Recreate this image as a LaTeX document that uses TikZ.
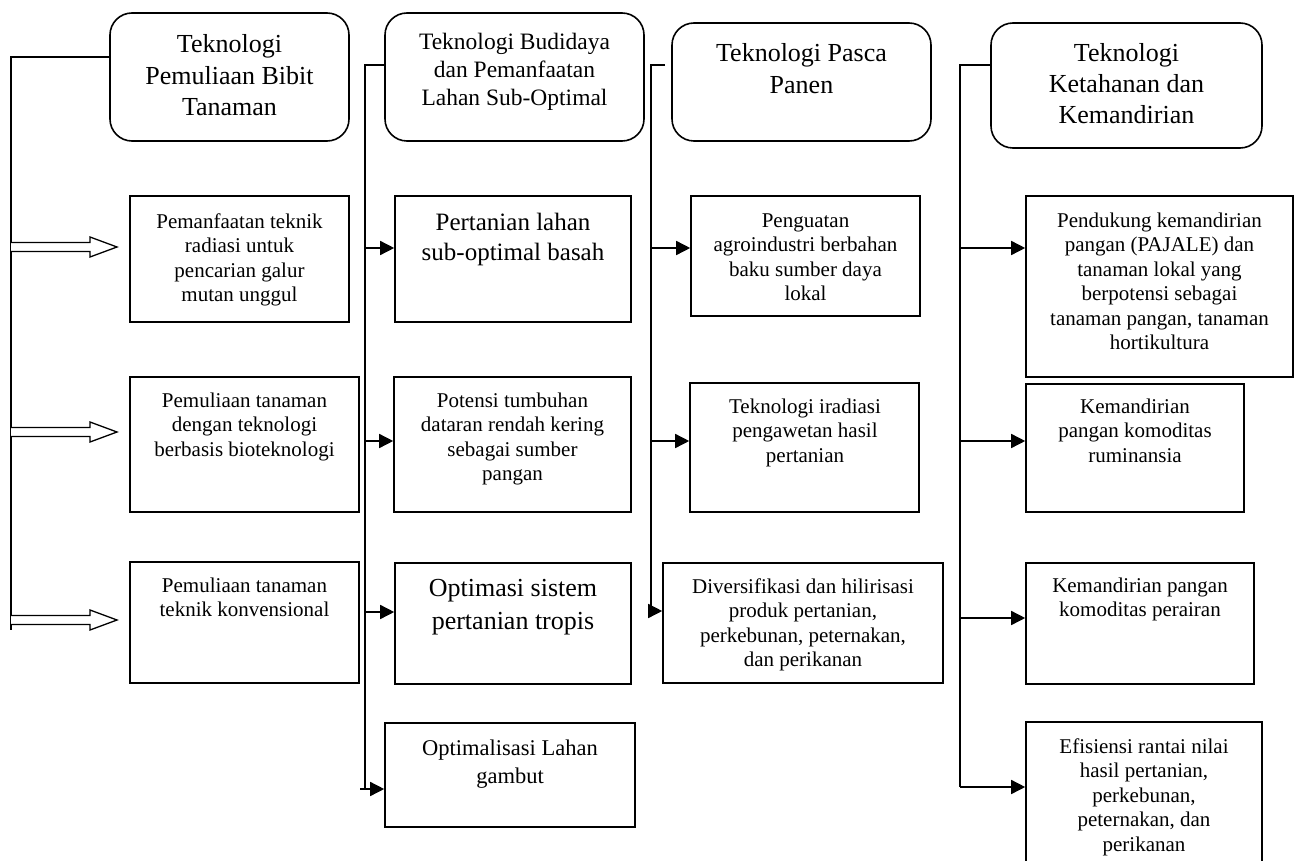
\documentclass[tikz,border=0pt]{standalone}
\usepackage{fontspec}
\setmainfont{Liberation Serif}
\usetikzlibrary{arrows.meta}
\tikzset{
  title/.style={draw, line width=1.6pt, rounded corners=22pt, inner sep=0pt},
  box/.style={draw, line width=1.6pt, inner sep=0pt},
  txt/.style={anchor=base, align=center, inner sep=0pt},
  fs/.style={font=\fontsize{21}{24.5}\selectfont},
  conn/.style={line width=1.5pt},
  arr/.style={line width=1.5pt, -{Triangle[length=14pt,width=14pt]}},
  hollow/.style={line width=1.3pt, fill=white}
}
\begin{document}
\begin{tikzpicture}[x=1pt,y=-1pt]
\useasboundingbox (0,0) rectangle (1298,861);

% title boxes
\node[title, minimum width=239pt, minimum height=128pt] (T1) at (229.5,77) {};
\node[title, minimum width=259pt, minimum height=128pt] (T2) at (514.5,77) {};
\node[title, minimum width=259pt, minimum height=118pt] (T3) at (801.5,82) {};
\node[title, minimum width=271pt, minimum height=125pt] (T4) at (1126.5,85.5) {};
\node[txt, font=\fontsize{26}{31.5}\selectfont] at (229.5,116) {Teknologi\\Pemuliaan Bibit\\Tanaman};
\node[txt, font=\fontsize{23.5}{28}\selectfont] at (514.5,106) {Teknologi Budidaya\\dan Pemanfaatan\\Lahan Sub-Optimal};
\node[txt, font=\fontsize{26}{32}\selectfont] at (801.5,94) {Teknologi Pasca\\Panen};
\node[txt, font=\fontsize{26}{31}\selectfont] at (1126.5,124) {Teknologi\\Ketahanan dan\\Kemandirian};

% column 1 boxes
\node[box, minimum width=219pt, minimum height=126pt] (b1a) at (239.5,259) {};
\node[box, minimum width=229pt, minimum height=135pt] (b1b) at (244.5,444.5) {};
\node[box, minimum width=229pt, minimum height=121pt] (b1c) at (244.5,622.5) {};
\node[txt, fs] at (239.5,301.5) {Pemanfaatan teknik\\radiasi untuk\\pencarian galur\\mutan unggul};
\node[txt, fs] at (244.5,456) {Pemuliaan tanaman\\dengan teknologi\\berbasis bioteknologi};
\node[txt, fs] at (244.5,616.5) {Pemuliaan tanaman\\teknik konvensional};

% column 2 boxes
\node[box, minimum width=236pt, minimum height=126pt] (b2a) at (513,259) {};
\node[box, minimum width=237pt, minimum height=135pt] (b2b) at (512.5,444.5) {};
\node[box, minimum width=236pt, minimum height=121pt] (b2c) at (513,623.5) {};
\node[box, minimum width=250pt, minimum height=104pt] (b2d) at (510,775) {};
\node[txt, font=\fontsize{25}{30}\selectfont] at (513,260) {Pertanian lahan\\sub-optimal basah};
\node[txt, fs] at (512.5,480.5) {Potensi tumbuhan\\dataran rendah kering\\sebagai sumber\\pangan};
\node[txt, font=\fontsize{26}{33}\selectfont] at (513,629) {Optimasi sistem\\pertanian tropis};
\node[txt, font=\fontsize{22.5}{28}\selectfont] at (510,783) {Optimalisasi Lahan\\gambut};

% column 3 boxes
\node[box, minimum width=229pt, minimum height=120pt] (b3a) at (805.5,256) {};
\node[box, minimum width=229pt, minimum height=129pt] (b3b) at (804.5,447.5) {};
\node[box, minimum width=280pt, minimum height=120pt] (b3c) at (803,623) {};
\node[txt, fs] at (805.5,300.5) {Penguatan\\agroindustri berbahan\\baku sumber daya\\lokal};
\node[txt, fs] at (805,462) {Teknologi iradiasi\\pengawetan hasil\\pertanian};
\node[txt, fs] at (803,666.5) {Diversifikasi dan hilirisasi\\produk pertanian,\\perkebunan, peternakan,\\dan perikanan};

% column 4 boxes
\node[box, minimum width=267pt, minimum height=181pt] (b4a) at (1159.5,286.5) {};
\node[box, minimum width=218pt, minimum height=128pt] (b4b) at (1135,448) {};
\node[box, minimum width=228pt, minimum height=121pt] (b4c) at (1140,623.5) {};
\node[box, minimum width=236pt, minimum height=148pt] (b4d) at (1144,796) {};
\node[txt, fs] at (1159.5,349.5) {Pendukung kemandirian\\pangan (PAJALE) dan\\tanaman lokal yang\\berpotensi sebagai\\tanaman pangan, tanaman\\hortikultura};
\node[txt, fs] at (1135,462) {Kemandirian\\pangan komoditas\\ruminansia};
\node[txt, fs] at (1140,616.5) {Kemandirian pangan\\komoditas perairan};
\node[txt, fs] at (1144,851) {Efisiensi rantai nilai\\hasil pertanian,\\perkebunan,\\peternakan, dan\\perikanan};

% bracket corner coordinates
\coordinate (c1) at (11,57);
\coordinate (c1b) at (11,630);
\coordinate (c2) at (365,65);
\coordinate (c2b) at (365,789);
\coordinate (c3s) at (665,65);
\coordinate (c3) at (651,65);
\coordinate (c3b) at (651,612);
\coordinate (c4) at (960,65);
\coordinate (c4b) at (960,787);

% column 1 bracket and hollow arrows
\draw[conn] (T1.west |- c1) -- (c1) -- (c1b);
\foreach \yy in {247,432,620}{
  \draw[hollow] (11,\yy-4.5) -- (90,\yy-4.5) -- (90,\yy-10) -- (117,\yy) -- (90,\yy+10) -- (90,\yy+4.5) -- (11,\yy+4.5);
}

% column 2
\draw[conn] (T2.west |- c2) -- (c2) -- (c2b);
\draw[arr] (c2 |- 0,248) -- (b2a.west |- 0,248);
\draw[arr] (c2 |- 0,441) -- (b2b.west |- 0,441);
\draw[arr] (c2 |- 0,612) -- (b2c.west |- 0,612);
\draw[arr] (360,789) -- (b2d.west |- 0,789);

% column 3
\draw[conn] (c3s) -- (c3) -- (c3b);
\draw[arr] (c3 |- 0,248) -- (b3a.west |- 0,248);
\draw[arr] (c3 |- 0,441) -- (b3b.west |- 0,441);
\draw[arr] (c3 |- 0,611) -- (b3c.west |- 0,611);

% column 4
\draw[conn] (T4.west |- c4) -- (c4) -- (c4b);
\draw[arr] (c4 |- 0,248) -- (b4a.west |- 0,248);
\draw[arr] (c4 |- 0,441) -- (b4b.west |- 0,441);
\draw[arr] (c4 |- 0,618) -- (b4c.west |- 0,618);
\draw[arr] (c4 |- 0,787) -- (b4d.west |- 0,787);
\end{tikzpicture}
\end{document}
